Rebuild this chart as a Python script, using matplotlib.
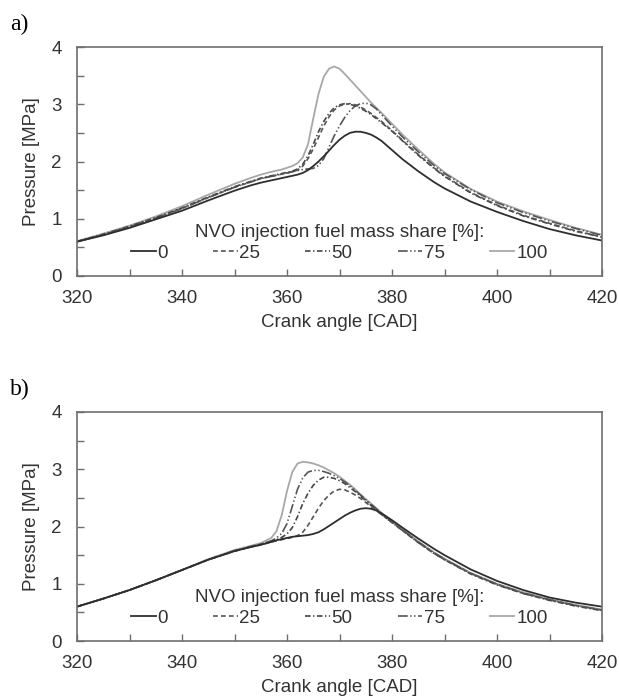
import numpy as np
import matplotlib
matplotlib.use("Agg")
import matplotlib.pyplot as plt

# === DATA ===
cad = [320, 325, 330, 335, 340, 345, 350, 353, 355, 357, 358, 359, 360, 361, 362,
       363, 364, 365, 366, 367, 368, 369, 370, 371, 372, 373, 374, 375, 376, 377,
       378, 380, 382, 385, 388, 390, 395, 400, 405, 410, 415, 420]

shares = ["0", "25", "50", "75", "100"]
legend_title = "NVO injection fuel mass share [%]:"

# panel a)
a_p0 = [0.60, 0.71, 0.84, 0.99, 1.14, 1.32, 1.49, 1.58, 1.63, 1.67, 1.69, 1.71, 1.73, 1.75, 1.77,
        1.80, 1.85, 1.92, 2.00, 2.09, 2.19, 2.29, 2.38, 2.45, 2.50, 2.52, 2.52, 2.50, 2.47, 2.42,
        2.36, 2.20, 2.04, 1.83, 1.64, 1.53, 1.30, 1.12, 0.96, 0.82, 0.71, 0.62]
a_p25 = [0.60, 0.72, 0.86, 1.01, 1.18, 1.37, 1.55, 1.64, 1.70, 1.74, 1.76, 1.78, 1.80, 1.82, 1.85,
         1.92, 2.05, 2.22, 2.42, 2.62, 2.78, 2.90, 2.97, 3.00, 3.01, 2.99, 2.95, 2.90, 2.84, 2.77,
         2.70, 2.54, 2.37, 2.12, 1.89, 1.75, 1.46, 1.24, 1.06, 0.92, 0.79, 0.68]
a_p50 = [0.60, 0.73, 0.87, 1.02, 1.19, 1.38, 1.56, 1.65, 1.71, 1.75, 1.77, 1.79, 1.81, 1.83, 1.87,
         1.95, 2.10, 2.30, 2.52, 2.70, 2.84, 2.94, 2.99, 3.01, 3.00, 2.97, 2.93, 2.88, 2.82, 2.75,
         2.68, 2.53, 2.36, 2.11, 1.88, 1.74, 1.45, 1.23, 1.05, 0.91, 0.78, 0.68]
a_p75 = [0.60, 0.72, 0.86, 1.01, 1.18, 1.37, 1.55, 1.64, 1.70, 1.74, 1.76, 1.78, 1.80, 1.82, 1.84,
         1.86, 1.87, 1.88, 1.93, 2.05, 2.25, 2.45, 2.62, 2.77, 2.89, 2.97, 3.01, 3.02, 2.99, 2.92,
         2.82, 2.62, 2.43, 2.17, 1.93, 1.79, 1.51, 1.28, 1.11, 0.96, 0.83, 0.71]
a_p100 = [0.61, 0.74, 0.88, 1.04, 1.22, 1.42, 1.61, 1.71, 1.77, 1.82, 1.84, 1.86, 1.89, 1.92, 1.97,
          2.07, 2.30, 2.75, 3.18, 3.48, 3.62, 3.66, 3.62, 3.53, 3.43, 3.33, 3.23, 3.13, 3.03, 2.94,
          2.85, 2.66, 2.47, 2.21, 1.96, 1.81, 1.52, 1.30, 1.13, 0.98, 0.84, 0.72]

# panel b)
b_p0 = [0.60, 0.74, 0.89, 1.06, 1.24, 1.42, 1.57, 1.64, 1.68, 1.73, 1.76, 1.78, 1.80, 1.82, 1.83,
        1.84, 1.85, 1.87, 1.90, 1.95, 2.01, 2.07, 2.13, 2.19, 2.24, 2.28, 2.31, 2.32, 2.31, 2.28,
        2.23, 2.11, 1.98, 1.79, 1.61, 1.50, 1.25, 1.05, 0.89, 0.76, 0.67, 0.60]
b_p25 = [0.60, 0.74, 0.89, 1.06, 1.24, 1.42, 1.57, 1.64, 1.68, 1.73, 1.75, 1.77, 1.79, 1.81, 1.84,
         1.90, 2.02, 2.17, 2.32, 2.45, 2.55, 2.62, 2.65, 2.64, 2.60, 2.55, 2.49, 2.42, 2.35, 2.28,
         2.21, 2.07, 1.93, 1.72, 1.53, 1.42, 1.18, 0.99, 0.83, 0.72, 0.62, 0.54]
b_p50 = [0.60, 0.74, 0.89, 1.06, 1.24, 1.42, 1.57, 1.64, 1.69, 1.74, 1.77, 1.81, 1.87, 1.98, 2.17,
         2.40, 2.58, 2.72, 2.81, 2.86, 2.86, 2.84, 2.80, 2.75, 2.68, 2.61, 2.53, 2.45, 2.37, 2.29,
         2.21, 2.07, 1.93, 1.72, 1.53, 1.42, 1.17, 0.98, 0.83, 0.71, 0.61, 0.53]
b_p75 = [0.60, 0.74, 0.89, 1.06, 1.24, 1.42, 1.58, 1.65, 1.69, 1.75, 1.80, 1.88, 2.05, 2.35, 2.65,
         2.85, 2.95, 2.98, 2.98, 2.96, 2.93, 2.89, 2.84, 2.78, 2.71, 2.63, 2.55, 2.47, 2.39, 2.31,
         2.23, 2.08, 1.94, 1.73, 1.54, 1.43, 1.18, 0.99, 0.84, 0.72, 0.62, 0.54]
b_p100 = [0.60, 0.74, 0.89, 1.06, 1.24, 1.43, 1.59, 1.66, 1.71, 1.80, 1.92, 2.20, 2.62, 2.95, 3.10,
          3.13, 3.12, 3.10, 3.07, 3.03, 2.98, 2.93, 2.87, 2.80, 2.73, 2.65, 2.56, 2.48, 2.40, 2.32,
          2.24, 2.09, 1.95, 1.74, 1.55, 1.44, 1.19, 1.00, 0.85, 0.73, 0.63, 0.55]

# === STYLE ===
plt.rcParams['font.family'] = ['Liberation Sans', 'DejaVu Sans']
plt.rcParams['lines.scale_dashes'] = False
txt = '#333333'
spine = '#6e6e6e'

styles = [
    dict(color='#2e2e2e', ls='-', lw=1.3),
    dict(color='#555555', ls=(0, (3.5, 2.2)), lw=1.2),
    dict(color='#444444', ls=(0, (4.0, 1.8, 1.0, 1.8)), lw=1.2),
    dict(color='#555555', ls=(0, (7.0, 1.8, 1.0, 1.8, 1.0, 1.8)), lw=1.2),
    dict(color='#a8a8a8', ls='-', lw=1.3),
]

fig = plt.figure(figsize=(6.19, 6.99), dpi=100)
W, H = 619, 699
ax_a = fig.add_axes([77 / W, 1 - 276 / H, 525 / W, 229 / H])
ax_b = fig.add_axes([77 / W, 1 - 641 / H, 525 / W, 229 / H])

panels = [
    (ax_a, [a_p0, a_p25, a_p50, a_p75, a_p100], "a)", 1 - 24 / H),
    (ax_b, [b_p0, b_p25, b_p50, b_p75, b_p100], "b)", 1 - 389 / H),
]

for ax, series, tag, ty in panels:
    handles = []
    # draw grey ones first so the black line stays on top
    for i in [4, 3, 2, 1, 0]:
        ln, = ax.plot(cad, series[i], label=shares[i], **styles[i])
        handles.append(ln)
    handles = handles[::-1]

    ax.set_xlim(320, 420)
    ax.set_ylim(0, 4)
    ax.set_xticks(np.arange(320, 421, 10))
    ax.set_xticklabels([str(v) if v % 20 == 0 else '' for v in range(320, 421, 10)])
    ax.set_yticks(np.arange(0, 4.01, 0.5))
    ax.set_yticklabels([str(int(v)) if v == int(v) else '' for v in np.arange(0, 4.01, 0.5)])
    ax.tick_params(axis='x', direction='in', length=5, width=1, color=spine,
                   labelsize=13.5, labelcolor=txt, pad=10)
    ax.tick_params(axis='y', direction='in', length=5, width=1, color=spine,
                   labelsize=13.5, labelcolor=txt, pad=11)
    for s in ax.spines.values():
        s.set_color(spine)
        s.set_linewidth(1.2)

    ax.set_xlabel('Crank angle [CAD]', fontsize=13.5, color=txt, labelpad=5)
    ax.set_ylabel('Pressure [MPa]', fontsize=13.5, color=txt, labelpad=8)

    leg = ax.legend(handles=handles, labels=shares, title=legend_title, ncol=5,
                    loc='lower center', bbox_to_anchor=(0.5, 0.03), frameon=False,
                    fontsize=13.5, title_fontsize=13.5, handlelength=1.3,
                    handletextpad=0.1, columnspacing=2.4, borderaxespad=0,
                    labelspacing=0.2)
    for t in leg.get_texts():
        t.set_color(txt)
    leg.get_title().set_color(txt)

    fig.text(10 / W, ty, tag, fontsize=17, family='Liberation Serif', va='center', ha='left')

fig.savefig('out.png', dpi=100)
